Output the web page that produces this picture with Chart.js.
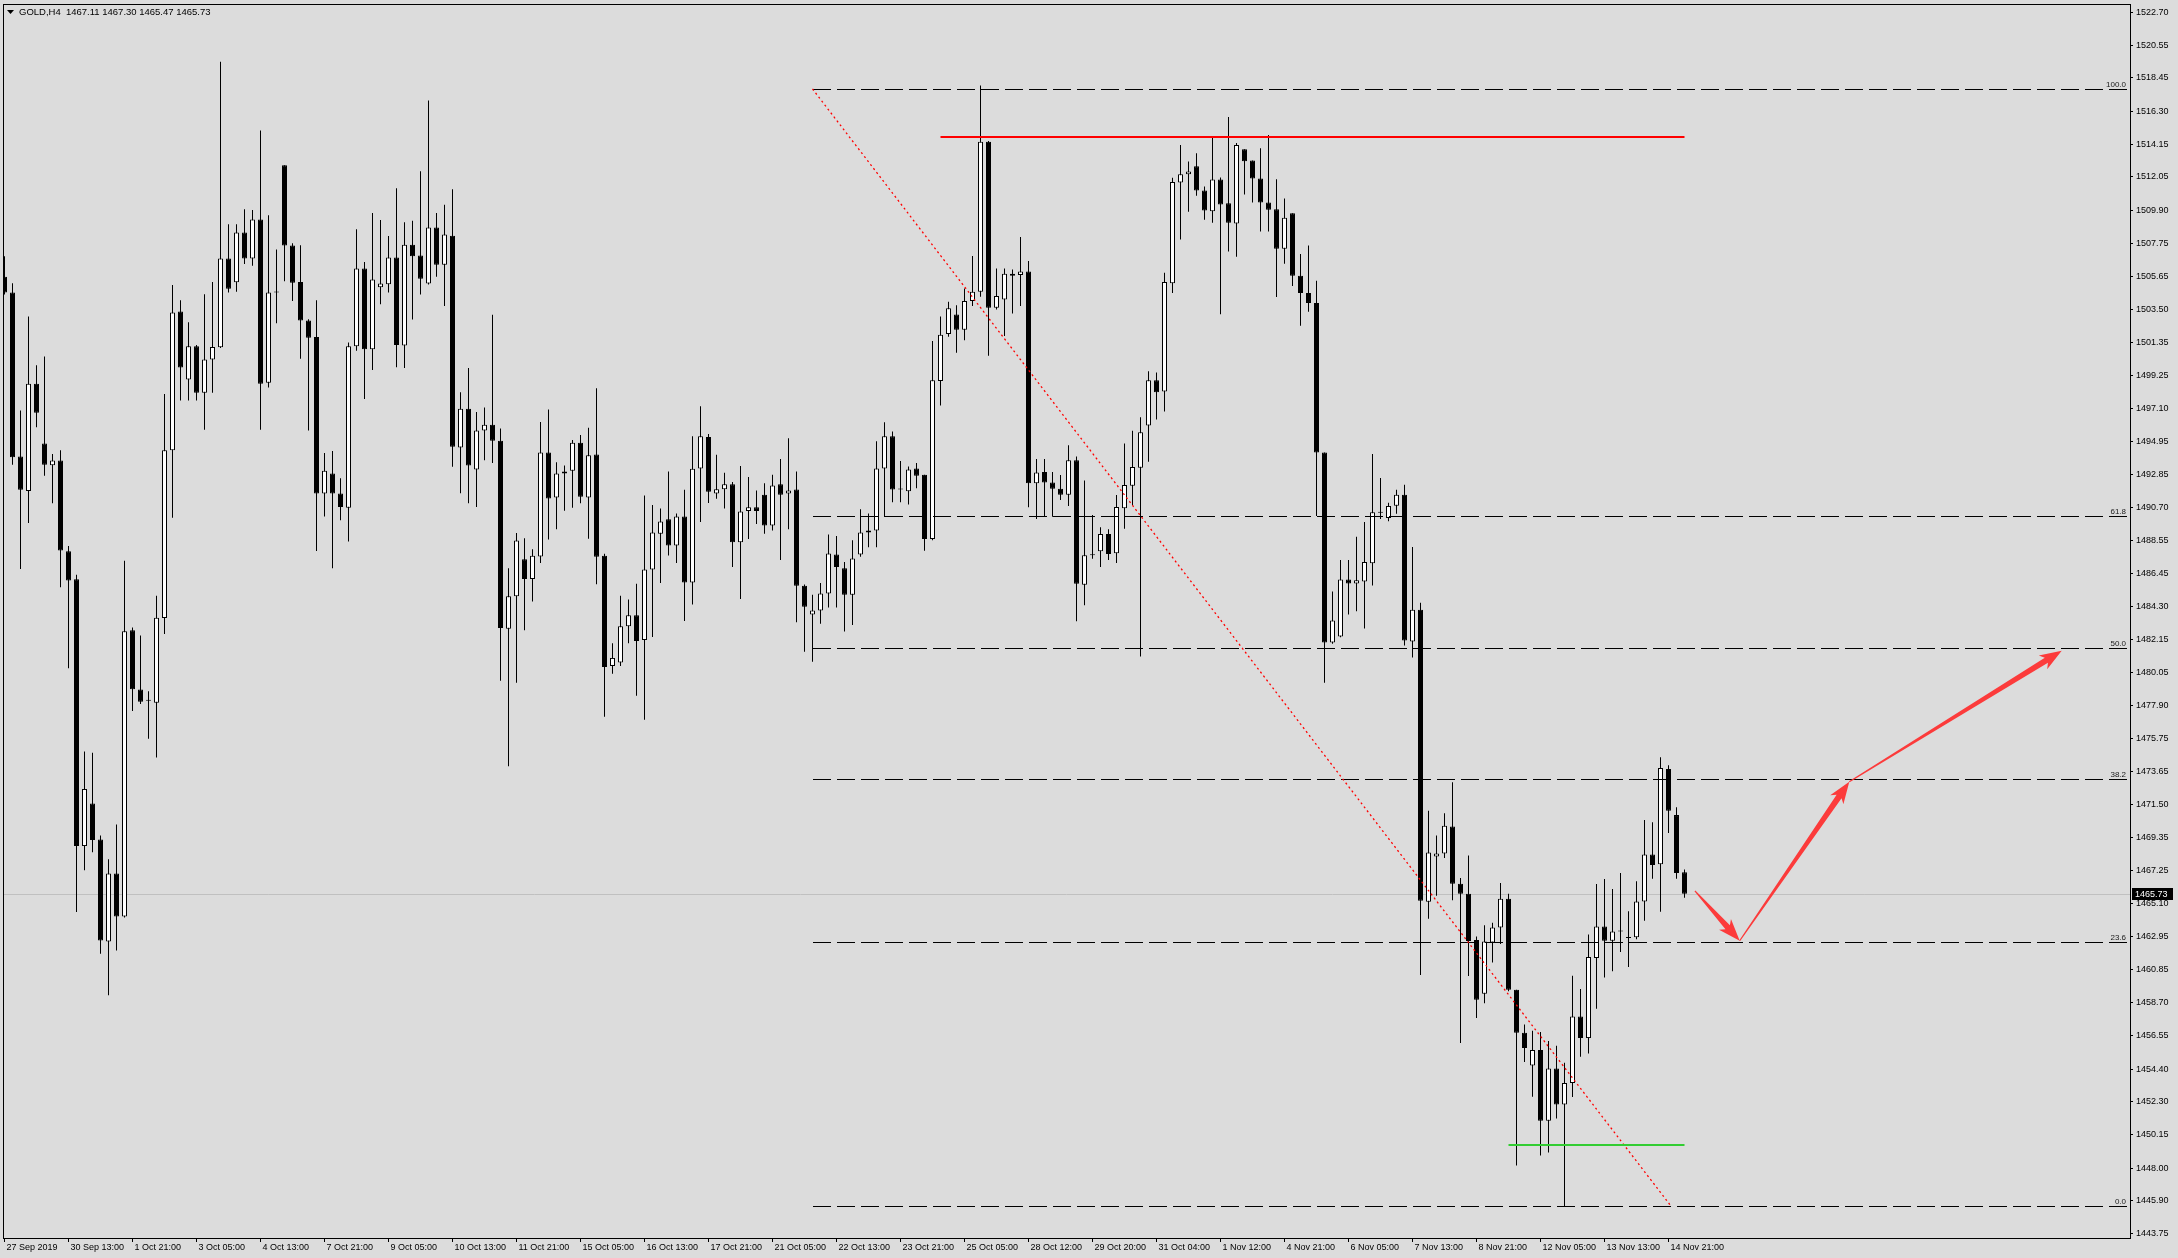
<!DOCTYPE html>
<html>
<head>
<meta charset="utf-8">
<title>GOLD,H4</title>
<script src="https://cdn.jsdelivr.net/npm/chart.js@4.4.1/dist/chart.umd.min.js"></script>
<style>
  html, body { margin: 0; padding: 0; background: #dcdcdc; overflow: hidden; }
  canvas { display: block; }
</style>
</head>
<body>
<canvas id="chart" width="2178" height="1258"></canvas>
<script>
// GOLD H4 candles, 27 Sep 2019 -> 15 Nov 2019, one entry per bar
const opens = [
  1505.61, 1504.58, 1493.99, 1491.76, 1498.69, 1494.83, 1493.42, 1493.72, 1487.86, 1486.05,
  1468.81, 1471.56, 1469.24, 1462.64, 1467.03, 1464.25, 1482.75, 1478.93, 1478.20, 1478.07,
  1483.55, 1494.39, 1503.36, 1498.96, 1501.11, 1498.10, 1500.25, 1501.04, 1506.78, 1505.24,
  1508.46, 1506.78, 1509.30, 1498.76, 1504.58, 1512.81, 1507.62, 1505.27, 1502.77, 1501.71,
  1491.59, 1492.88, 1491.59, 1490.68, 1501.11, 1506.13, 1500.91, 1504.92, 1505.12, 1506.85,
  1501.16, 1507.67, 1506.98, 1505.17, 1508.78, 1506.38, 1508.26, 1494.56, 1497.08, 1493.15,
  1495.67, 1496.04, 1495.00, 1482.85, 1484.95, 1487.34, 1486.07, 1487.53, 1494.24, 1491.34,
  1492.88, 1493.07, 1494.88, 1491.34, 1494.11, 1487.58, 1480.45, 1480.67, 1483.02, 1483.73,
  1482.12, 1486.69, 1489.00, 1489.93, 1488.23, 1490.11, 1485.85, 1493.21, 1495.25, 1491.60,
  1491.87, 1492.20, 1488.45, 1490.46, 1490.70, 1491.52, 1489.53, 1492.20, 1491.60, 1491.85,
  1485.64, 1483.77, 1484.04, 1485.13, 1487.66, 1486.76, 1485.05, 1487.66, 1489.07, 1489.21,
  1493.21, 1495.30, 1491.85, 1491.74, 1493.21, 1492.80, 1488.66, 1498.87, 1501.91, 1503.16,
  1502.18, 1504.03, 1504.63, 1514.32, 1503.60, 1504.14, 1505.80, 1505.72, 1505.94, 1492.25,
  1492.98, 1492.30, 1491.91, 1491.52, 1493.75, 1485.70, 1487.60, 1487.86, 1488.98, 1487.73,
  1490.64, 1492.09, 1493.26, 1495.99, 1498.92, 1498.19, 1505.18, 1511.70, 1512.22, 1512.74,
  1511.18, 1509.83, 1511.88, 1510.35, 1509.05, 1513.85, 1513.12, 1511.96, 1510.40, 1509.96,
  1507.41, 1509.70, 1505.67, 1504.56, 1503.91, 1494.25, 1481.97, 1482.35, 1486.04, 1485.78,
  1485.91, 1487.08, 1490.35, 1490.01, 1490.81, 1491.51, 1482.03, 1484.09, 1465.21, 1468.14,
  1468.33, 1470.07, 1466.37, 1465.73, 1462.74, 1459.26, 1462.58, 1463.54, 1465.40, 1459.52,
  1456.75, 1454.63, 1455.63, 1451.06, 1454.44, 1452.10, 1453.50, 1457.80, 1456.40, 1461.58,
  1463.61, 1462.69, 1463.29, 1462.87, 1462.92, 1465.23, 1468.27, 1467.63, 1473.79, 1470.81,
  1467.11
];
const highs = [
  1506.93, 1505.19, 1496.96, 1503.04, 1499.88, 1500.45, 1494.14, 1494.39, 1488.20, 1486.35,
  1474.92, 1474.84, 1469.50, 1467.95, 1470.21, 1487.25, 1482.94, 1482.42, 1478.82, 1484.98,
  1498.02, 1505.07, 1504.08, 1502.67, 1501.20, 1504.48, 1505.27, 1519.49, 1509.00, 1509.00,
  1509.97, 1509.92, 1515.06, 1509.57, 1507.37, 1512.81, 1507.77, 1507.64, 1502.85, 1504.08,
  1494.21, 1494.34, 1492.58, 1501.36, 1508.68, 1506.55, 1509.72, 1509.27, 1508.24, 1511.33,
  1509.13, 1509.23, 1512.42, 1516.99, 1509.72, 1510.26, 1511.25, 1498.14, 1499.70, 1496.86,
  1497.16, 1503.14, 1495.80, 1486.77, 1489.04, 1488.70, 1488.00, 1496.22, 1497.03, 1493.62,
  1493.40, 1495.05, 1495.37, 1495.84, 1498.39, 1487.70, 1481.91, 1484.98, 1484.74, 1485.77,
  1491.47, 1490.85, 1490.63, 1493.02, 1490.30, 1491.84, 1495.30, 1497.23, 1495.44, 1494.10,
  1492.93, 1492.34, 1493.37, 1492.66, 1491.79, 1492.25, 1492.80, 1493.83, 1495.17, 1493.02,
  1485.72, 1485.05, 1485.81, 1488.94, 1488.85, 1487.17, 1488.58, 1490.57, 1490.30, 1494.97,
  1496.20, 1495.60, 1493.70, 1493.34, 1493.56, 1492.80, 1501.45, 1503.03, 1503.98, 1503.76,
  1504.85, 1506.94, 1517.96, 1514.37, 1506.13, 1506.13, 1506.07, 1508.17, 1506.62, 1493.83,
  1493.83, 1492.98, 1492.79, 1494.71, 1493.99, 1492.43, 1490.20, 1489.42, 1489.29, 1491.50,
  1494.82, 1495.65, 1496.53, 1499.49, 1499.41, 1505.86, 1512.00, 1514.11, 1513.05, 1513.59,
  1511.44, 1514.63, 1512.01, 1515.93, 1514.24, 1513.85, 1513.12, 1513.90, 1514.76, 1511.91,
  1510.66, 1509.70, 1507.08, 1507.62, 1505.34, 1494.25, 1485.26, 1487.29, 1487.29, 1488.80,
  1489.75, 1494.14, 1492.59, 1491.00, 1491.83, 1492.16, 1488.14, 1484.54, 1471.10, 1469.49,
  1470.93, 1472.93, 1466.75, 1468.20, 1462.96, 1463.70, 1463.86, 1466.43, 1465.73, 1459.52,
  1457.27, 1456.88, 1456.79, 1456.21, 1455.90, 1454.80, 1460.43, 1459.57, 1463.10, 1466.36,
  1466.68, 1466.03, 1467.07, 1464.60, 1466.54, 1470.49, 1470.35, 1474.55, 1474.04, 1471.32,
  1467.30
];
const lows = [
  1504.45, 1493.45, 1486.72, 1489.69, 1495.87, 1492.75, 1490.97, 1485.53, 1480.30, 1464.55,
  1467.25, 1468.41, 1461.85, 1459.17, 1462.06, 1464.20, 1477.54, 1477.99, 1475.74, 1474.54,
  1482.51, 1490.03, 1497.60, 1497.60, 1497.60, 1495.72, 1498.10, 1501.00, 1504.58, 1504.63,
  1506.43, 1506.31, 1495.72, 1498.44, 1502.60, 1505.32, 1504.03, 1500.30, 1495.67, 1487.88,
  1490.11, 1486.77, 1489.86, 1488.50, 1500.82, 1497.70, 1499.58, 1503.83, 1504.58, 1499.75,
  1499.70, 1502.84, 1504.45, 1505.10, 1505.61, 1503.71, 1493.32, 1491.61, 1490.97, 1490.72,
  1493.74, 1493.57, 1479.49, 1473.96, 1479.36, 1482.75, 1484.61, 1487.10, 1488.62, 1489.29,
  1490.48, 1490.67, 1490.97, 1488.67, 1485.73, 1477.17, 1479.94, 1480.45, 1481.91, 1478.52,
  1476.98, 1482.32, 1485.81, 1487.59, 1487.10, 1483.35, 1484.42, 1489.75, 1490.98, 1491.25,
  1490.62, 1486.84, 1484.77, 1488.66, 1489.62, 1488.99, 1489.21, 1487.30, 1489.29, 1483.28,
  1481.37, 1480.72, 1483.17, 1484.23, 1484.23, 1482.68, 1483.09, 1487.50, 1488.12, 1488.12,
  1490.08, 1491.03, 1491.03, 1490.89, 1491.93, 1487.90, 1488.58, 1497.29, 1501.72, 1500.69,
  1501.50, 1503.71, 1504.31, 1500.50, 1503.49, 1501.78, 1503.22, 1503.71, 1490.70, 1489.94,
  1490.14, 1490.09, 1491.18, 1490.79, 1483.34, 1484.38, 1487.37, 1486.85, 1487.29, 1487.11,
  1489.31, 1490.85, 1481.06, 1493.65, 1496.38, 1496.90, 1504.56, 1508.01, 1509.80, 1510.84,
  1509.28, 1509.10, 1503.18, 1507.23, 1506.89, 1510.92, 1510.40, 1508.53, 1508.53, 1504.30,
  1506.45, 1505.00, 1502.43, 1503.34, 1490.14, 1479.37, 1481.89, 1482.30, 1483.78, 1483.99,
  1482.87, 1485.65, 1489.94, 1489.80, 1490.29, 1481.77, 1481.00, 1460.48, 1464.12, 1465.60,
  1468.04, 1465.31, 1456.08, 1460.42, 1457.69, 1458.65, 1461.29, 1462.48, 1459.42, 1448.17,
  1454.86, 1452.61, 1448.81, 1449.00, 1451.20, 1445.55, 1452.60, 1455.20, 1455.40, 1458.30,
  1460.31, 1460.72, 1461.97, 1461.00, 1462.78, 1463.98, 1466.70, 1464.56, 1469.66, 1466.70,
  1465.47
];
const closes = [
  1504.58, 1493.94, 1491.84, 1498.69, 1496.81, 1493.45, 1493.72, 1487.91, 1485.98, 1468.81,
  1472.50, 1469.20, 1462.70, 1467.03, 1464.25, 1482.70, 1478.95, 1478.14, 1478.20, 1483.56,
  1494.39, 1503.29, 1499.73, 1501.11, 1498.10, 1500.25, 1501.06, 1506.78, 1504.82, 1508.46,
  1506.78, 1509.30, 1498.69, 1504.58, 1504.60, 1507.62, 1505.22, 1502.77, 1501.66, 1491.59,
  1493.07, 1491.59, 1490.72, 1501.11, 1506.13, 1500.91, 1505.42, 1505.17, 1506.85, 1501.19,
  1507.67, 1506.93, 1505.47, 1508.78, 1506.38, 1508.34, 1494.61, 1497.08, 1493.40, 1495.67,
  1496.04, 1495.00, 1482.90, 1484.95, 1488.55, 1486.07, 1487.58, 1494.24, 1491.27, 1492.88,
  1493.02, 1494.88, 1491.39, 1494.06, 1487.51, 1480.39, 1480.97, 1483.02, 1483.73, 1482.06,
  1486.69, 1489.07, 1489.78, 1488.23, 1490.11, 1485.85, 1493.20, 1495.30, 1491.71, 1491.87,
  1492.20, 1488.45, 1490.43, 1490.70, 1490.46, 1489.53, 1492.12, 1491.52, 1491.79, 1485.64,
  1484.28, 1484.04, 1485.13, 1487.71, 1486.84, 1485.05, 1487.39, 1489.07, 1489.21, 1493.21,
  1495.30, 1491.85, 1491.85, 1493.15, 1492.74, 1488.66, 1498.92, 1501.86, 1503.57, 1502.18,
  1504.03, 1504.63, 1514.32, 1503.60, 1504.36, 1505.80, 1505.67, 1505.94, 1492.25, 1492.96,
  1492.30, 1491.91, 1491.52, 1493.75, 1485.76, 1487.60, 1487.60, 1488.98, 1487.68, 1490.72,
  1492.14, 1493.31, 1495.55, 1498.92, 1498.14, 1505.26, 1511.72, 1512.22, 1512.40, 1511.18,
  1509.88, 1511.88, 1510.27, 1509.10, 1514.11, 1513.07, 1511.96, 1510.40, 1509.93, 1507.41,
  1509.41, 1505.67, 1504.56, 1503.91, 1494.25, 1481.97, 1483.39, 1486.04, 1485.78, 1485.99,
  1487.16, 1490.38, 1490.35, 1490.79, 1491.51, 1482.09, 1484.09, 1465.28, 1468.39, 1468.33,
  1470.13, 1466.37, 1465.73, 1462.67, 1458.88, 1462.64, 1463.54, 1465.40, 1459.52, 1456.75,
  1455.76, 1455.63, 1451.06, 1454.44, 1452.10, 1453.50, 1457.80, 1456.40, 1461.64, 1463.61,
  1462.69, 1463.29, 1463.29, 1462.87, 1465.23, 1468.27, 1467.58, 1473.86, 1471.09, 1467.07,
  1465.73
];

// time axis: one label every 8 bars
const xLabels = ['27 Sep 2019', '30 Sep 13:00', '1 Oct 21:00', '3 Oct 05:00', '4 Oct 13:00',
  '7 Oct 21:00', '9 Oct 05:00', '10 Oct 13:00', '11 Oct 21:00', '15 Oct 05:00', '16 Oct 13:00',
  '17 Oct 21:00', '21 Oct 05:00', '22 Oct 13:00', '23 Oct 21:00', '25 Oct 05:00', '28 Oct 12:00',
  '29 Oct 20:00', '31 Oct 04:00', '1 Nov 12:00', '4 Nov 21:00', '6 Nov 05:00', '7 Nov 13:00',
  '8 Nov 21:00', '12 Nov 05:00', '13 Nov 13:00', '14 Nov 21:00'];
const labelStep = 8;

// price axis
const yTicks = [1522.70, 1520.55, 1518.45, 1516.30, 1514.15, 1512.05, 1509.90, 1507.75, 1505.65,
  1503.50, 1501.35, 1499.25, 1497.10, 1494.95, 1492.85, 1490.70, 1488.55, 1486.45, 1484.30,
  1482.15, 1480.05, 1477.90, 1475.75, 1473.65, 1471.50, 1469.35, 1467.25, 1465.10, 1462.95,
  1460.85, 1458.70, 1456.55, 1454.40, 1452.30, 1450.15, 1448.00, 1445.90, 1443.75];

// drawn objects
const fibNames = ['100.0', '61.8', '50.0', '38.2', '23.6', '0.0'];
const fibPrices = [1517.74, 1490.17, 1481.64, 1473.14, 1462.61, 1445.55];
const fibStartBar = 101;
const fibDiagonal = [[101, 1517.74], [208.3, 1445.55]];
const resistance = { from: 117, to: 210, price: 1514.65 };
const support = { from: 188, to: 210, price: 1449.50 };
const arrowPath = [[211.3, 1465.92], [216.9, 1462.69], [230.6, 1472.97], [257.15, 1481.43]];
const lastPrice = 1465.73;
const header = 'GOLD,H4  1467.11 1467.30 1465.47 1465.73';

const FONT = "'Liberation Sans', Arial, sans-serif";

function drawArrow(ctx, x0, y0, x1, y1) {
  const dx = x1 - x0, dy = y1 - y0, len = Math.hypot(dx, dy);
  const ux = dx / len, uy = dy / len, nx = -uy, ny = ux;
  const hl = 18, hw = 8, sw = 3;
  const bx = x1 - ux * hl, by = y1 - uy * hl;
  ctx.beginPath();
  ctx.moveTo(x0 + nx * 0.6, y0 + ny * 0.6);
  ctx.lineTo(bx + nx * sw, by + ny * sw);
  ctx.lineTo(bx - ux * 4 + nx * hw, by - uy * 4 + ny * hw);
  ctx.lineTo(x1, y1);
  ctx.lineTo(bx - ux * 4 - nx * hw, by - uy * 4 - ny * hw);
  ctx.lineTo(bx - nx * sw, by - ny * sw);
  ctx.lineTo(x0 - nx * 0.6, y0 - ny * 0.6);
  ctx.closePath();
  ctx.fill();
}

const overlay = {
  id: 'overlay',
  beforeDraw(chart) {
    const ctx = chart.ctx;
    ctx.save();
    ctx.fillStyle = '#dcdcdc';
    ctx.fillRect(0, 0, chart.width, chart.height);
    ctx.restore();
  },
  beforeDatasetsDraw(chart) {
    const { ctx, chartArea: a, scales: { y } } = chart;
    const py = Math.round(y.getPixelForValue(lastPrice)) + 0.5;
    ctx.save();
    ctx.strokeStyle = '#c0c0c0';
    ctx.lineWidth = 1;
    ctx.beginPath();
    ctx.moveTo(a.left, py);
    ctx.lineTo(a.right, py);
    ctx.stroke();
    ctx.restore();
  },
  afterDatasetsDraw(chart) {
    const { ctx, chartArea: a, scales: { x, y } } = chart;
    ctx.save();
    ctx.beginPath();
    ctx.rect(a.left, a.top, a.right - a.left, a.bottom - a.top);
    ctx.clip();

    // fibonacci levels
    ctx.strokeStyle = '#000';
    ctx.lineWidth = 1;
    ctx.setLineDash([18, 6]);
    const fx = Math.round(x.getPixelForValue(fibStartBar));
    fibPrices.forEach((p) => {
      const py = Math.round(y.getPixelForValue(p)) + 0.5;
      ctx.beginPath();
      ctx.moveTo(fx, py);
      ctx.lineTo(a.right, py);
      ctx.stroke();
    });
    ctx.setLineDash([]);
    ctx.fillStyle = '#1a1a1a';
    ctx.font = '8px ' + FONT;
    ctx.textAlign = 'right';
    ctx.textBaseline = 'alphabetic';
    fibPrices.forEach((p, i) => {
      const py = Math.round(y.getPixelForValue(p));
      ctx.fillText(fibNames[i], a.right - 4, py - 2);
    });

    // fibonacci trend line
    ctx.strokeStyle = '#ff0000';
    ctx.lineWidth = 1.3;
    ctx.setLineDash([2, 3]);
    ctx.beginPath();
    ctx.moveTo(x.getPixelForValue(fibDiagonal[0][0]), y.getPixelForValue(fibDiagonal[0][1]));
    ctx.lineTo(x.getPixelForValue(fibDiagonal[1][0]), y.getPixelForValue(fibDiagonal[1][1]));
    ctx.stroke();
    ctx.setLineDash([]);

    // resistance and support
    ctx.lineWidth = 2;
    ctx.strokeStyle = '#ff0000';
    let py = Math.round(y.getPixelForValue(resistance.price));
    ctx.beginPath();
    ctx.moveTo(x.getPixelForValue(resistance.from), py);
    ctx.lineTo(x.getPixelForValue(resistance.to), py);
    ctx.stroke();
    ctx.strokeStyle = '#32cd32';
    py = Math.round(y.getPixelForValue(support.price));
    ctx.beginPath();
    ctx.moveTo(x.getPixelForValue(support.from), py);
    ctx.lineTo(x.getPixelForValue(support.to), py);
    ctx.stroke();

    // forecast arrows
    ctx.fillStyle = '#fc3b3b';
    for (let i = 0; i < arrowPath.length - 1; i++) {
      drawArrow(ctx,
        x.getPixelForValue(arrowPath[i][0]), y.getPixelForValue(arrowPath[i][1]),
        x.getPixelForValue(arrowPath[i + 1][0]), y.getPixelForValue(arrowPath[i + 1][1]));
    }
    ctx.restore();
  },
  afterDraw(chart) {
    const { ctx, chartArea: a, scales: { y } } = chart;
    ctx.save();
    ctx.strokeStyle = '#000';
    ctx.lineWidth = 1;
    ctx.strokeRect(a.left + 0.5, a.top + 0.5, a.right - a.left, a.bottom - a.top);

    // header
    ctx.fillStyle = '#000';
    ctx.beginPath();
    ctx.moveTo(7, 10);
    ctx.lineTo(14, 10);
    ctx.lineTo(10.5, 14);
    ctx.closePath();
    ctx.fill();
    ctx.font = '9.5px ' + FONT;
    ctx.textAlign = 'left';
    ctx.textBaseline = 'alphabetic';
    ctx.fillText(header, 19, 15);

    // last price tag
    const py = Math.round(y.getPixelForValue(lastPrice));
    ctx.fillStyle = '#000';
    ctx.fillRect(a.right + 2, py - 6, 41, 12);
    ctx.fillStyle = '#fff';
    ctx.font = '9px ' + FONT;
    ctx.textBaseline = 'middle';
    ctx.fillText(lastPrice.toFixed(2), a.right + 5, py + 0.5);
    ctx.restore();
  }
};

const bodyData = opens.map((o, i) => ({ x: i, y: [o, closes[i]] }));
const wickData = lows.map((l, i) => ({ x: i, y: [l, highs[i]] }));
const bodyColors = opens.map((o, i) => (closes[i] >= o ? '#ffffff' : '#000000'));

const ctx = document.getElementById('chart').getContext('2d');
const chart = new Chart(ctx, {
  type: 'bar',
  data: {
    datasets: [
      {
        label: 'body',
        data: bodyData,
        order: 0,
        grouped: false,
        barThickness: 5,
        minBarLength: 1,
        backgroundColor: bodyColors,
        borderColor: '#000000',
        borderWidth: 1,
        borderSkipped: false,
        inflateAmount: 0
      },
      {
        label: 'wick',
        data: wickData,
        order: 1,
        grouped: false,
        barThickness: 1,
        backgroundColor: '#000000',
        borderWidth: 0,
        inflateAmount: 0
      }
    ]
  },
  options: {
    responsive: false,
    animation: false,
    devicePixelRatio: 1,
    layout: { padding: { left: 3, top: 4, right: 0, bottom: 0 } },
    plugins: { legend: { display: false }, tooltip: { enabled: false } },
    scales: {
      x: {
        type: 'linear',
        min: -0.1875,
        max: 265.6875,
        offset: false,
        afterBuildTicks: (scale) => {
          scale.ticks = xLabels.map((_, k) => ({ value: k * labelStep }));
        },
        afterFit: (scale) => {
          scale.height = 20;
          scale.paddingLeft = 0;
          scale.paddingRight = 0;
        },
        grid: { display: true, offset: false, drawOnChartArea: false, drawTicks: true, tickLength: 4, color: '#000' },
        border: { display: true, color: '#000', width: 1 },
        ticks: {
          autoSkip: false,
          maxRotation: 0,
          minRotation: 0,
          align: 'start',
          labelOffset: 2,
          padding: 0,
          color: '#000',
          font: { family: FONT, size: 9 },
          callback: (value, index) => xLabels[index]
        }
      },
      y: {
        type: 'linear',
        position: 'right',
        min: 1443.48,
        max: 1523.23,
        beginAtZero: false,
        afterBuildTicks: (scale) => {
          scale.ticks = yTicks.map((v) => ({ value: v }));
        },
        afterFit: (scale) => {
          scale.width = 48;
          scale.paddingTop = 0;
          scale.paddingBottom = 0;
        },
        grid: { display: true, drawOnChartArea: false, drawTicks: true, tickLength: 3, color: '#000' },
        border: { display: true, color: '#000', width: 1 },
        ticks: {
          autoSkip: false,
          padding: 3,
          color: '#000',
          font: { family: FONT, size: 9 },
          callback: (value) => Number(value).toFixed(2)
        }
      }
    }
  },
  plugins: [overlay]
});
</script>
</body>
</html>
